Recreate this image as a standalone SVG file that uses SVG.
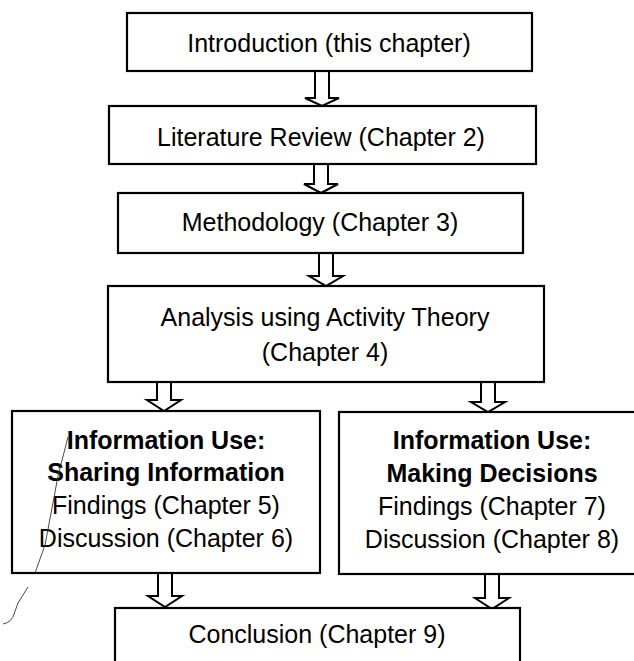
<svg xmlns="http://www.w3.org/2000/svg" width="634" height="661" viewBox="0 0 634 661">
<style>
.box{fill:#fff;stroke:#000;stroke-width:2.2}
.arr{fill:#fff;stroke:#000;stroke-width:2}
.t{font-family:"Liberation Sans",Arial,sans-serif;font-size:25px;fill:#000;text-anchor:middle}
.b{font-weight:bold}
.mark{fill:none;stroke:#333;stroke-width:0.9}
</style>
<rect width="634" height="661" fill="#fff"/>
<g id="connectors">
<path class="arr" d="M315,71 V98 H305 L322,106 L339,98 H329 V71"/>
<path class="arr" d="M314,164 V184 H304 L321,193 L338,184 H328 V164"/>
<path class="arr" d="M319,253 V276 H309 L326,286 L343,276 H333 V253"/>
<path class="arr" d="M157,382 V400 H147 L164,411 L181,400 H171 V382"/>
<path class="arr" d="M481,382 V402 H471 L488,412 L505,402 H495 V382"/>
<path class="arr" d="M158,573 V596 H148 L165,607 L182,596 H172 V573"/>
<path class="arr" d="M485,575 V598 H475 L492,609 L509,598 H499 V575"/>
</g>
<g id="intro">
<rect class="box" x="127" y="13" width="405" height="58"/>
<text class="t" x="329" y="52">Introduction (this chapter)</text>
</g>
<g id="literature">
<rect class="box" x="109" y="106" width="427" height="58"/>
<text class="t" x="321" y="146">Literature Review (Chapter 2)</text>
</g>
<g id="methodology">
<rect class="box" x="118" y="193" width="405" height="60"/>
<text class="t" x="320" y="231">Methodology (Chapter 3)</text>
</g>
<g id="analysis">
<rect class="box" x="108" y="286" width="436" height="96"/>
<text class="t" x="325" y="326">Analysis using Activity Theory</text>
<text class="t" x="325" y="361">(Chapter 4)</text>
</g>
<g id="sharing">
<rect class="box" x="12" y="411" width="308" height="162"/>
<text class="t b" x="166" y="449">Information Use:</text>
<text class="t b" x="166" y="481">Sharing Information</text>
<text class="t" x="166" y="514">Findings (Chapter 5)</text>
<text class="t" x="166" y="547">Discussion (Chapter 6)</text>
</g>
<g id="decisions">
<rect class="box" x="339" y="412" width="310" height="162"/>
<text class="t b" x="492" y="449">Information Use:</text>
<text class="t b" x="492" y="482">Making Decisions</text>
<text class="t" x="492" y="515">Findings (Chapter 7)</text>
<text class="t" x="492" y="548">Discussion (Chapter 8)</text>
</g>
<g id="conclusion">
<rect class="box" x="115" y="608" width="405" height="70"/>
<text class="t" x="317" y="643">Conclusion (Chapter 9)</text>
</g>
<g id="marks">
<path class="mark" d="M35,573 L45,545 L52,508 L58,476 L68,437"/>
<path class="mark" d="M28,587 L18,603 L14,614 Q12,622 3,624"/>
</g>
</svg>
